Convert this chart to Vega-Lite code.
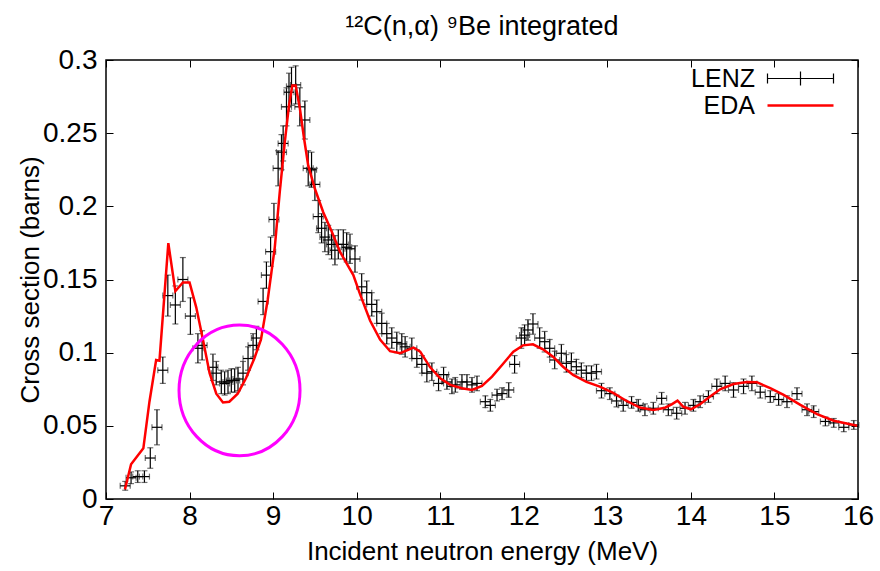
{
  "$schema": "https://vega.github.io/schema/vega-lite/v6.json",
  "width": 752,
  "height": 439,
  "autosize": {"type": "none"},
  "padding": {"left": 106, "top": 60, "right": 22, "bottom": 72},
  "background": "white",
  "title": {"text": "¹²C(n,α) ⁹Be integrated", "fontSize": 27, "font": "Liberation Sans", "fontWeight": "normal", "color": "black", "offset": 5},
  "config": {
    "view": {"stroke": "black", "strokeWidth": 1.5},
    "font": "Liberation Sans",
    "axis": {"grid": false, "domain": false, "labelFlush": false, "labelOverlap": false, "tickColor": "black", "tickWidth": 1, "tickSize": -7, "labelFont": "Liberation Sans", "labelFontSize": 28, "labelColor": "black", "titleFont": "Liberation Sans", "titleFontSize": 26, "titleFontWeight": "normal", "titleColor": "black"},
    "legend": {
      "orient": "none", "legendX": 682, "legendY": 6, "padding": 0, "title": null,
      "labelFont": "Liberation Sans", "labelFontSize": 25, "labelColor": "black",
      "symbolSize": 400, "labelAlign": "right", "labelOffset": -58, "rowPadding": 1
    }
  },
  "datasets": {
    "lenz": [
      {"E":7.23,"s":0.009,"ds":0.003,"dE":0.06},{"E":7.30,"s":0.0145,"ds":0.004,"dE":0.06},{"E":7.38,"s":0.0153,"ds":0.004,"dE":0.06},{"E":7.46,"s":0.0153,"ds":0.004,"dE":0.06},
      {"E":7.53,"s":0.028,"ds":0.007,"dE":0.06},{"E":7.61,"s":0.049,"ds":0.012,"dE":0.06},{"E":7.68,"s":0.088,"ds":0.009,"dE":0.06},{"E":7.74,"s":0.139,"ds":0.014,"dE":0.06},
      {"E":7.83,"s":0.1326,"ds":0.013,"dE":0.06},{"E":7.92,"s":0.150,"ds":0.015,"dE":0.06},{"E":8.01,"s":0.125,"ds":0.0125,"dE":0.06},{"E":8.10,"s":0.103,"ds":0.010,"dE":0.06},
      {"E":8.15,"s":0.105,"ds":0.010,"dE":0.06},{"E":8.28,"s":0.090,"ds":0.009,"dE":0.06},{"E":8.32,"s":0.086,"ds":0.008,"dE":0.06},{"E":8.38,"s":0.080,"ds":0.008,"dE":0.06},
      {"E":8.42,"s":0.079,"ds":0.008,"dE":0.06},{"E":8.46,"s":0.080,"ds":0.008,"dE":0.06},{"E":8.50,"s":0.081,"ds":0.008,"dE":0.06},{"E":8.54,"s":0.081,"ds":0.008,"dE":0.06},
      {"E":8.58,"s":0.082,"ds":0.008,"dE":0.06},{"E":8.64,"s":0.086,"ds":0.008,"dE":0.06},{"E":8.70,"s":0.096,"ds":0.008,"dE":0.06},{"E":8.76,"s":0.105,"ds":0.008,"dE":0.06},
      {"E":8.80,"s":0.110,"ds":0.008,"dE":0.06},{"E":8.88,"s":0.135,"ds":0.009,"dE":0.06},{"E":8.92,"s":0.153,"ds":0.009,"dE":0.06},{"E":8.97,"s":0.169,"ds":0.010,"dE":0.06},
      {"E":9.01,"s":0.191,"ds":0.011,"dE":0.06},{"E":9.06,"s":0.226,"ds":0.012,"dE":0.06},{"E":9.10,"s":0.237,"ds":0.012,"dE":0.06},{"E":9.12,"s":0.243,"ds":0.012,"dE":0.06},
      {"E":9.16,"s":0.268,"ds":0.013,"dE":0.06},{"E":9.19,"s":0.278,"ds":0.013,"dE":0.06},{"E":9.22,"s":0.282,"ds":0.013,"dE":0.06},{"E":9.27,"s":0.283,"ds":0.013,"dE":0.06},
      {"E":9.32,"s":0.268,"ds":0.013,"dE":0.06},{"E":9.38,"s":0.259,"ds":0.013,"dE":0.06},{"E":9.42,"s":0.226,"ds":0.012,"dE":0.06},{"E":9.46,"s":0.225,"ds":0.012,"dE":0.06},
      {"E":9.50,"s":0.215,"ds":0.011,"dE":0.06},{"E":9.54,"s":0.193,"ds":0.011,"dE":0.06},{"E":9.58,"s":0.185,"ds":0.010,"dE":0.06},{"E":9.62,"s":0.179,"ds":0.010,"dE":0.06},
      {"E":9.66,"s":0.177,"ds":0.010,"dE":0.06},{"E":9.70,"s":0.174,"ds":0.010,"dE":0.06},{"E":9.74,"s":0.170,"ds":0.010,"dE":0.06},{"E":9.78,"s":0.174,"ds":0.010,"dE":0.06},
      {"E":9.84,"s":0.174,"ds":0.010,"dE":0.06},{"E":9.88,"s":0.172,"ds":0.010,"dE":0.06},{"E":9.92,"s":0.171,"ds":0.010,"dE":0.06},{"E":9.98,"s":0.164,"ds":0.009,"dE":0.06},
      {"E":10.06,"s":0.145,"ds":0.009,"dE":0.06},{"E":10.12,"s":0.141,"ds":0.008,"dE":0.06},{"E":10.18,"s":0.133,"ds":0.008,"dE":0.06},{"E":10.24,"s":0.128,"ds":0.008,"dE":0.06},
      {"E":10.30,"s":0.120,"ds":0.007,"dE":0.06},{"E":10.36,"s":0.113,"ds":0.007,"dE":0.06},{"E":10.42,"s":0.110,"ds":0.007,"dE":0.06},{"E":10.48,"s":0.107,"ds":0.007,"dE":0.06},
      {"E":10.54,"s":0.106,"ds":0.007,"dE":0.06},{"E":10.58,"s":0.104,"ds":0.007,"dE":0.06},{"E":10.66,"s":0.103,"ds":0.007,"dE":0.06},{"E":10.72,"s":0.096,"ds":0.006,"dE":0.06},
      {"E":10.78,"s":0.092,"ds":0.006,"dE":0.06},{"E":10.84,"s":0.086,"ds":0.006,"dE":0.06},{"E":10.90,"s":0.087,"ds":0.006,"dE":0.06},{"E":10.98,"s":0.079,"ds":0.005,"dE":0.06},
      {"E":11.04,"s":0.085,"ds":0.005,"dE":0.06},{"E":11.08,"s":0.080,"ds":0.005,"dE":0.06},{"E":11.14,"s":0.077,"ds":0.005,"dE":0.06},{"E":11.18,"s":0.078,"ds":0.005,"dE":0.06},
      {"E":11.26,"s":0.080,"ds":0.005,"dE":0.06},{"E":11.32,"s":0.080,"ds":0.005,"dE":0.06},{"E":11.38,"s":0.078,"ds":0.005,"dE":0.06},{"E":11.44,"s":0.079,"ds":0.005,"dE":0.06},
      {"E":11.54,"s":0.0665,"ds":0.004,"dE":0.06},{"E":11.60,"s":0.064,"ds":0.004,"dE":0.06},{"E":11.68,"s":0.071,"ds":0.004,"dE":0.06},{"E":11.74,"s":0.072,"ds":0.004,"dE":0.06},
      {"E":11.82,"s":0.0745,"ds":0.005,"dE":0.06},{"E":11.89,"s":0.092,"ds":0.006,"dE":0.06},{"E":11.97,"s":0.110,"ds":0.007,"dE":0.06},{"E":12.01,"s":0.112,"ds":0.007,"dE":0.06},
      {"E":12.05,"s":0.1155,"ds":0.007,"dE":0.06},{"E":12.11,"s":0.1196,"ds":0.007,"dE":0.06},{"E":12.19,"s":0.110,"ds":0.007,"dE":0.06},{"E":12.25,"s":0.1075,"ds":0.007,"dE":0.06},
      {"E":12.31,"s":0.103,"ds":0.006,"dE":0.06},{"E":12.37,"s":0.095,"ds":0.006,"dE":0.06},{"E":12.45,"s":0.0996,"ds":0.006,"dE":0.06},{"E":12.51,"s":0.0927,"ds":0.006,"dE":0.06},
      {"E":12.57,"s":0.0938,"ds":0.006,"dE":0.06},{"E":12.63,"s":0.0904,"ds":0.005,"dE":0.06},{"E":12.69,"s":0.088,"ds":0.005,"dE":0.06},{"E":12.75,"s":0.086,"ds":0.005,"dE":0.06},
      {"E":12.81,"s":0.086,"ds":0.005,"dE":0.06},{"E":12.87,"s":0.087,"ds":0.005,"dE":0.06},{"E":12.93,"s":0.074,"ds":0.005,"dE":0.06},{"E":13.03,"s":0.072,"ds":0.004,"dE":0.06},
      {"E":13.11,"s":0.067,"ds":0.004,"dE":0.06},{"E":13.19,"s":0.064,"ds":0.004,"dE":0.06},{"E":13.29,"s":0.066,"ds":0.004,"dE":0.06},{"E":13.37,"s":0.064,"ds":0.004,"dE":0.06},
      {"E":13.45,"s":0.061,"ds":0.004,"dE":0.06},{"E":13.55,"s":0.062,"ds":0.004,"dE":0.06},{"E":13.65,"s":0.0688,"ds":0.004,"dE":0.06},{"E":13.73,"s":0.061,"ds":0.004,"dE":0.06},
      {"E":13.83,"s":0.0586,"ds":0.004,"dE":0.06},{"E":13.93,"s":0.062,"ds":0.004,"dE":0.06},{"E":14.03,"s":0.064,"ds":0.004,"dE":0.06},{"E":14.11,"s":0.0665,"ds":0.004,"dE":0.06},
      {"E":14.21,"s":0.070,"ds":0.004,"dE":0.06},{"E":14.31,"s":0.077,"ds":0.005,"dE":0.06},{"E":14.41,"s":0.079,"ds":0.005,"dE":0.06},{"E":14.51,"s":0.0745,"ds":0.005,"dE":0.06},
      {"E":14.63,"s":0.077,"ds":0.005,"dE":0.06},{"E":14.73,"s":0.079,"ds":0.005,"dE":0.06},{"E":14.83,"s":0.073,"ds":0.004,"dE":0.06},{"E":14.95,"s":0.070,"ds":0.004,"dE":0.06},
      {"E":15.05,"s":0.068,"ds":0.004,"dE":0.06},{"E":15.15,"s":0.0665,"ds":0.004,"dE":0.06},{"E":15.27,"s":0.072,"ds":0.004,"dE":0.06},{"E":15.39,"s":0.061,"ds":0.004,"dE":0.06},
      {"E":15.47,"s":0.0597,"ds":0.004,"dE":0.06},{"E":15.61,"s":0.053,"ds":0.003,"dE":0.06},{"E":15.71,"s":0.052,"ds":0.003,"dE":0.06},{"E":15.83,"s":0.049,"ds":0.003,"dE":0.06},
      {"E":15.95,"s":0.0506,"ds":0.003,"dE":0.06}
    ],
    "eda": [
      {"E":7.227,"s":0.0066},{"E":7.30,"s":0.0237},{"E":7.447,"s":0.0346},{"E":7.52,"s":0.0665},{"E":7.60,"s":0.095},{"E":7.64,"s":0.0945},
      {"E":7.746,"s":0.1748},{"E":7.83,"s":0.142},{"E":7.92,"s":0.148},{"E":8.00,"s":0.148},{"E":8.08,"s":0.131},{"E":8.16,"s":0.109},
      {"E":8.24,"s":0.086},{"E":8.32,"s":0.072},{"E":8.40,"s":0.066},{"E":8.476,"s":0.0665},{"E":8.576,"s":0.072},{"E":8.675,"s":0.0825},
      {"E":8.775,"s":0.096},{"E":8.855,"s":0.109},{"E":8.935,"s":0.136},{"E":9.02,"s":0.172},{"E":9.08,"s":0.210},{"E":9.14,"s":0.244},
      {"E":9.19,"s":0.269},{"E":9.23,"s":0.2825},{"E":9.27,"s":0.2825},{"E":9.32,"s":0.267},{"E":9.37,"s":0.2465},{"E":9.42,"s":0.228},
      {"E":9.50,"s":0.212},{"E":9.60,"s":0.196},{"E":9.70,"s":0.183},{"E":9.80,"s":0.169},{"E":9.90,"s":0.159},{"E":9.96,"s":0.153},
      {"E":10.04,"s":0.140},{"E":10.16,"s":0.122},{"E":10.28,"s":0.109},{"E":10.40,"s":0.101},{"E":10.52,"s":0.0996},{"E":10.68,"s":0.1035},
      {"E":10.76,"s":0.1007},{"E":10.88,"s":0.090},{"E":11.00,"s":0.0825},{"E":11.12,"s":0.078},{"E":11.26,"s":0.0757},{"E":11.38,"s":0.0745},
      {"E":11.50,"s":0.0772},{"E":11.62,"s":0.0836},{"E":11.74,"s":0.0916},{"E":11.875,"s":0.1007},{"E":11.99,"s":0.105},{"E":12.11,"s":0.1057},
      {"E":12.23,"s":0.1023},{"E":12.35,"s":0.0973},{"E":12.47,"s":0.0904},{"E":12.59,"s":0.0848},{"E":12.75,"s":0.080},{"E":12.91,"s":0.0768},
      {"E":13.07,"s":0.0725},{"E":13.23,"s":0.067},{"E":13.39,"s":0.0625},{"E":13.55,"s":0.0608},{"E":13.69,"s":0.0624},{"E":13.77,"s":0.0647},
      {"E":13.84,"s":0.0672},{"E":13.91,"s":0.063},{"E":14.00,"s":0.0613},{"E":14.11,"s":0.0647},{"E":14.23,"s":0.070},{"E":14.35,"s":0.075},
      {"E":14.51,"s":0.0786},{"E":14.67,"s":0.080},{"E":14.79,"s":0.0798},{"E":14.95,"s":0.0757},{"E":15.11,"s":0.0711},{"E":15.31,"s":0.0643},
      {"E":15.51,"s":0.058},{"E":15.71,"s":0.0535},{"E":15.99,"s":0.050}
    ],
    "highlight": [{"E": 8.598, "s": 0.0742}]
  },
  "layer": [
    {
      "data": {"name": "lenz"},
      "mark": {"type": "errorbar", "color": "black", "thickness": 1.2, "ticks": {"size": 6, "color": "#333"}},
      "encoding": {
        "x": {"field": "E", "type": "quantitative", "scale": {"domain": [7, 16], "nice": false, "zero": false},
              "axis": {"orient": "bottom", "values": [7,8,9,10,11,12,13,14,15,16], "format": "d", "labelPadding": 10, "title": "Incident neutron energy (MeV)", "titleY": 52, "titleBaseline": "middle"}},
        "y": {"field": "s", "type": "quantitative", "scale": {"domain": [0, 0.3], "nice": false},
              "axis": {"orient": "left", "values": [0,0.05,0.1,0.15,0.2,0.25,0.3], "format": "~g", "labelPadding": 16, "title": "Cross section (barns)", "titleX": -76, "titleY": 219.5, "titleAngle": -90, "titleBaseline": "middle", "titleAlign": "center"}},
        "yError": {"field": "ds"}
      }
    },
    {
      "data": {"name": "lenz"},
      "mark": {"type": "errorbar", "color": "black", "thickness": 1.2, "ticks": {"size": 6, "color": "#333"}},
      "encoding": {
        "x": {"field": "E", "type": "quantitative", "axis": null},
        "xError": {"field": "dE"},
        "y": {"field": "s", "type": "quantitative", "axis": null}
      }
    },
    {
      "data": {"name": "eda"},
      "mark": {"type": "line", "strokeWidth": 2.5},
      "encoding": {
        "x": {"field": "E", "type": "quantitative", "axis": {"orient": "top", "values": [7,8,9,10,11,12,13,14,15,16], "labels": false, "title": null}},
        "y": {"field": "s", "type": "quantitative", "axis": {"orient": "right", "values": [0,0.05,0.1,0.15,0.2,0.25,0.3], "labels": false, "title": null}},
        "color": {"datum": "EDA", "scale": {"domain": ["LENZ", "EDA"], "range": ["black", "red"]},
          "legend": {
            "symbolType": "stroke",
            "encode": {"symbols": {"update": {
              "shape": {"signal": "datum.value === 'LENZ' ? 'M-1,0L1,0M-1,-0.15L-1,0.15M1,-0.15L1,0.15M0,-0.21L0,0.21' : 'M-1,0L1,0'"},
              "size": {"value": 4356},
              "stroke": {"signal": "datum.value === 'LENZ' ? 'black' : 'red'"},
              "strokeWidth": {"signal": "datum.value === 'LENZ' ? 1.2 : 2.5"},
              "fill": {"value": "transparent"}
            }}}
          }}
      }
    },
    {
      "data": {"name": "highlight"},
      "mark": {"type": "point", "filled": false, "shape": "M-1,0A1,1.08,0,1,1,1,0A1,1.08,0,1,1,-1,0Z", "size": 14641, "stroke": "#ff00ff", "strokeWidth": 3, "opacity": 1},
      "encoding": {
        "x": {"field": "E", "type": "quantitative", "axis": null},
        "y": {"field": "s", "type": "quantitative", "axis": null}
      }
    }
  ],
  "resolve": {"axis": {"x": "independent", "y": "independent"}}
}
